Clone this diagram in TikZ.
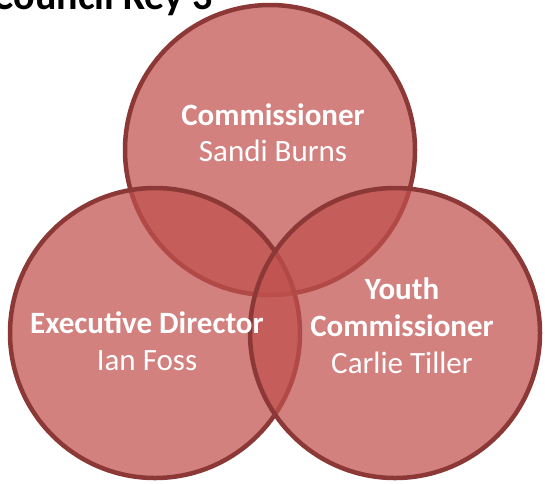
\documentclass[tikz,border=0pt]{standalone}
\usepackage{fontspec}
\setmainfont{Carlito}
\usepackage{tikz}
\definecolor{vennfill}{HTML}{C0504D}
\definecolor{vennline}{HTML}{8C3836}
\tikzset{
	venn/.style={fill=vennfill, fill opacity=0.72, draw=vennline, draw opacity=1, line width=4.5pt},
	rolelabel/.style={anchor=base, text=white, inner sep=0pt, font=\fontsize{31}{37}\selectfont\bfseries},
	namelabel/.style={anchor=base, text=white, inner sep=0pt, font=\fontsize{31}{37}\selectfont}
}

\begin{document}
\begin{tikzpicture}[x=1pt, y=-1pt]
			%%%%% START %%%%%
			
			\useasboundingbox (0, 0) rectangle (545, 483);
			\clip (0, 0) rectangle (545, 483);
			
			\node[anchor=base east, inner sep=0pt, font=\fontsize{40}{48}\selectfont\bfseries] (title) at (213, 9) {Council Key 3};
			
			\draw[venn] (270, 150) circle (145);
			\draw[venn] (155, 333) circle (145);
			\draw[venn] (395, 333) circle (145);
			
			\node[rolelabel] (top-role) at (273, 125) {Commissioner};
			\node[namelabel] (top-name) at (273, 161) {Sandi Burns};
			
			\node[rolelabel] (left-role) at (147, 333) {Executive Director};
			\node[namelabel] (left-name) at (147, 370) {Ian Foss};
			
			\node[rolelabel] (right-role-a) at (402, 299) {Youth};
			\node[rolelabel] (right-role-b) at (402, 336) {Commissioner};
			\node[namelabel] (right-name) at (402, 373) {Carlie Tiller};
			
			%%%%% END %%%%%
\end{tikzpicture}
\end{document}
